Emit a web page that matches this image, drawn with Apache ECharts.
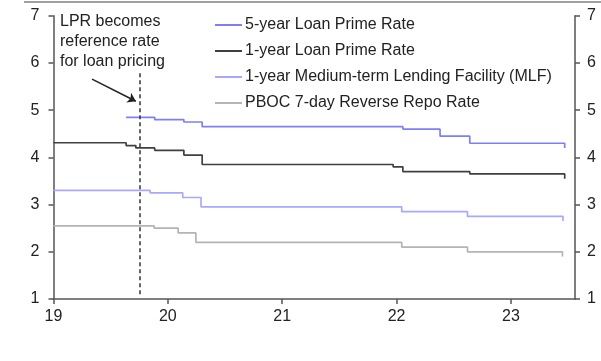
<!DOCTYPE html>
<html><head><meta charset="utf-8">
<script src="https://cdn.jsdelivr.net/npm/echarts@6/dist/echarts.min.js"></script>
<style>html,body{margin:0;padding:0;background:#fff}#c{width:601px;height:361px}</style>
</head><body><div id="c"></div>
<script>
// x positions are decimal years (19 = 2019)
const seriesNames = ['5-year Loan Prime Rate','1-year Loan Prime Rate','1-year Medium-term Lending Facility (MLF)','PBOC 7-day Reverse Repo Rate'];
const lpr5Dates = [19.635, 19.885, 20.14, 20.30, 22.055, 22.38, 22.64, 23.47];
const lpr5Values = [4.85, 4.80, 4.75, 4.65, 4.60, 4.45, 4.30, 4.20];
const lpr1Dates = [19.0, 19.635, 19.72, 19.885, 20.14, 20.30, 21.97, 22.055, 22.64, 23.47];
const lpr1Values = [4.31, 4.25, 4.20, 4.15, 4.05, 3.85, 3.80, 3.70, 3.65, 3.55];
const mlfDates = [19.0, 19.845, 20.13, 20.29, 22.045, 22.62, 23.455];
const mlfValues = [3.30, 3.25, 3.15, 2.95, 2.85, 2.75, 2.65];
const rrDates = [19.0, 19.88, 20.09, 20.245, 22.045, 22.62, 23.45];
const rrValues = [2.55, 2.50, 2.40, 2.20, 2.10, 2.00, 1.90];
const xTicks = [19, 20, 21, 22, 23];
const reformDate = 19.75;
const annotationText = 'LPR becomes\nreference rate\nfor loan pricing';

const zip = (xs, ys) => xs.map((x, i) => [x, ys[i]]);
const colors = ['#7f7ff5', '#404040', '#a8a8ff', '#b4b4b4'];
const font = 'Liberation Sans, Arial, sans-serif';
const chart = echarts.init(document.getElementById('c'), null, {renderer: 'canvas'});
const axisLineStyle = {color: '#555555', width: 1.5};
const mkSeries = (name, data, color, extra) => Object.assign({
  name, type: 'line', step: 'end', data, symbol: 'none', showSymbol: false,
  lineStyle: {color, width: 1.7}, itemStyle: {color}, animation: false, silent: true
}, extra || {});

chart.setOption({
  animation: false,
  grid: {left: 53.5, right: 26, top: 15.8, bottom: 62, containLabel: false},
  legend: {
    orient: 'vertical', left: 210, top: 11, itemWidth: 27, itemHeight: 2, itemGap: 8,
    icon: 'rect', selectedMode: false,
    textStyle: {fontFamily: font, fontSize: 16, color: '#222', lineHeight: 18, padding: [0,0,0,-2]},
    data: seriesNames
  },
  xAxis: {
    type: 'value', min: 19, max: 23.56,
    axisLine: {show: true, lineStyle: axisLineStyle},
    axisTick: {show: true, length: 5, lineStyle: axisLineStyle, customValues: xTicks},
    axisLabel: {customValues: xTicks, fontFamily: font, fontSize: 16, color: '#222', margin: 10},
    splitLine: {show: false}
  },
  yAxis: [
    {type: 'value', min: 1, max: 7, interval: 1, position: 'left',
     axisLine: {show: true, lineStyle: axisLineStyle},
     axisTick: {show: true, length: 5, lineStyle: axisLineStyle},
     axisLabel: {fontFamily: font, fontSize: 16, color: '#222', margin: 14},
     splitLine: {show: false}},
    {type: 'value', min: 1, max: 7, interval: 1, position: 'right',
     axisLine: {show: true, lineStyle: axisLineStyle},
     axisTick: {show: true, length: 5, lineStyle: axisLineStyle},
     axisLabel: {fontFamily: font, fontSize: 16, color: '#222', margin: 12},
     splitLine: {show: false}}
  ],
  series: [
    mkSeries(seriesNames[0], zip(lpr5Dates, lpr5Values), colors[0]),
    mkSeries(seriesNames[1], zip(lpr1Dates, lpr1Values), colors[1], {
      markLine: {
        silent: true, animation: false, label: {show: false},
        data: [
          [{coord: [reformDate, 1.1], symbol: 'none', lineStyle: {type: [4, 3], color: '#333', width: 1.5}},
           {coord: [reformDate, 5.82], symbol: 'none'}],
          [{coord: [19.337, 5.66], symbol: 'none', lineStyle: {type: 'solid', color: '#222', width: 1.5}},
           {coord: [19.72, 5.19], symbol: 'arrow', symbolSize: 8}]
        ]
      }
    }),
    mkSeries(seriesNames[2], zip(mlfDates, mlfValues), colors[2]),
    mkSeries(seriesNames[3], zip(rrDates, rrValues), colors[3])
  ],
  graphic: [
    {type: 'line', shape: {x1: 24, y1: 2, x2: 601, y2: 2}, style: {stroke: '#a0a0a0', lineWidth: 2}, silent: true},
    {type: 'text', left: 60, top: 12, style: {text: annotationText, fontFamily: font, fontSize: 16, lineHeight: 20, fill: '#222'}, silent: true}
  ]
});
</script></body></html>
